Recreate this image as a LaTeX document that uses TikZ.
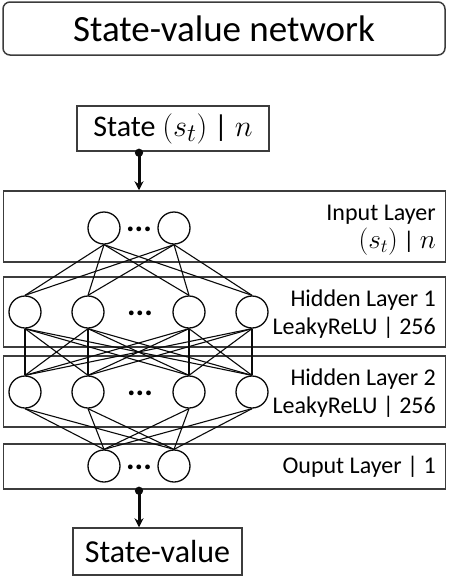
\documentclass[tikz,border=0pt]{standalone}
\usepackage{fontspec}
\setmainfont{Carlito}
\usetikzlibrary{arrows.meta,positioning,calc}
\definecolor{ink}{HTML}{0A0A0A}
\definecolor{frame}{HTML}{3C3C3C}
\newcommand{\bigmath}[2]{\scalebox{#1}{$#2$}}

\begin{document}
\begin{tikzpicture}[x=1pt,y=-1pt,
  layer/.style={draw=frame,line width=1.5pt,fill=white,minimum width=442pt,inner sep=0pt},
  neuron/.style={circle,draw=ink,line width=1.3pt,fill=white,minimum size=32pt,inner sep=0pt},
  link/.style={draw=ink,line width=1.1pt},
  flow/.style={draw=ink,line width=3pt,shorten <=-3pt,{Circle[length=8pt]}-{Stealth[length=9pt,width=9pt]}},
  lbl/.style={font=\fontsize{24}{26}\selectfont,anchor=base east,inner sep=0pt},
  iobox/.style={draw=frame,line width=1.5pt,fill=white,font=\fontsize{32}{34}\selectfont,inner sep=0pt},
  dots/.style={font=\fontsize{32}{32}\selectfont\bfseries,inner sep=0pt}]

  \useasboundingbox (0,0) rectangle (448,576);
  \node[draw=frame,line width=1.5pt,rounded corners=7pt,minimum width=442pt,minimum height=53pt,
        inner sep=0pt,font=\fontsize{37}{39}\selectfont] (title) at (224,28.5) {State-value network};

  % input / output boxes
  \node[iobox,minimum width=192pt,minimum height=45pt,font=\fontsize{30}{32}\selectfont] (st) at (173,128.5)
    {State \bigmath{1.22}{(s_t)} | \bigmath{1.22}{n}};
  \node[iobox,minimum width=169pt,minimum height=47pt] (sv) at (157.5,551.5) {State-value};

  % layer frames
  \node[layer,minimum height=71pt] (inL) at (224.5,226.5) {};
  \node[layer,minimum height=70pt] (h1L) at (224.5,312) {};
  \node[layer,minimum height=71pt] (h2L) at (224.5,391.5) {};
  \node[layer,minimum height=45pt] (outL) at (224.5,466.5) {};

  % neurons
  \foreach \x [count=\i] in {104,174} {
    \node[neuron] (in\i) at (\x,228) {};
    \node[neuron] (out\i) at (\x,466) {};
  }
  \foreach \x [count=\i] in {25,88,189,252} {
    \node[neuron] (ha\i) at (\x,312) {};
    \node[neuron] (hb\i) at (\x,392) {};
  }
  \node[dots] (inDots) at (139,229) {...};
  \node[dots] (haDots) at (140,313) {...};
  \node[dots] (hbDots) at (140,393) {...};
  \node[dots] (outDots) at (139,467) {...};

  % connections
  \foreach \i in {1,2}
    \foreach \j in {1,...,4}
      \draw[link] (in\i.south) -- (ha\j.north);
  \foreach \i in {1,...,4}
    \foreach \j in {1,...,4}
      \draw[link] (ha\i.south) -- (hb\j.north);
  \foreach \i in {1,...,4}
    \foreach \j in {1,2}
      \draw[link] (hb\i.south) -- (out\j.north);

  % layer labels
  \node[lbl] (inT) at (436,220) {Input Layer};
  \node[lbl] (inS) at (436,248) {\bigmath{1.1}{(s_t)} | \bigmath{1.1}{n}};
  \node[lbl] (h1T) at (436,306) {Hidden Layer 1};
  \node[lbl] (h1S) at (436,334) {LeakyReLU | 256};
  \node[lbl] (h2T) at (436,385) {Hidden Layer 2};
  \node[lbl] (h2S) at (436,413) {LeakyReLU | 256};
  \node[lbl] (outT) at (436,473) {Ouput Layer | 1};

  % data flow
  \draw[flow] (inDots |- st.south) -- (inDots |- inL.north);
  \draw[flow] (outDots |- outL.south) -- (outDots |- sv.north);
\end{tikzpicture}
\end{document}
